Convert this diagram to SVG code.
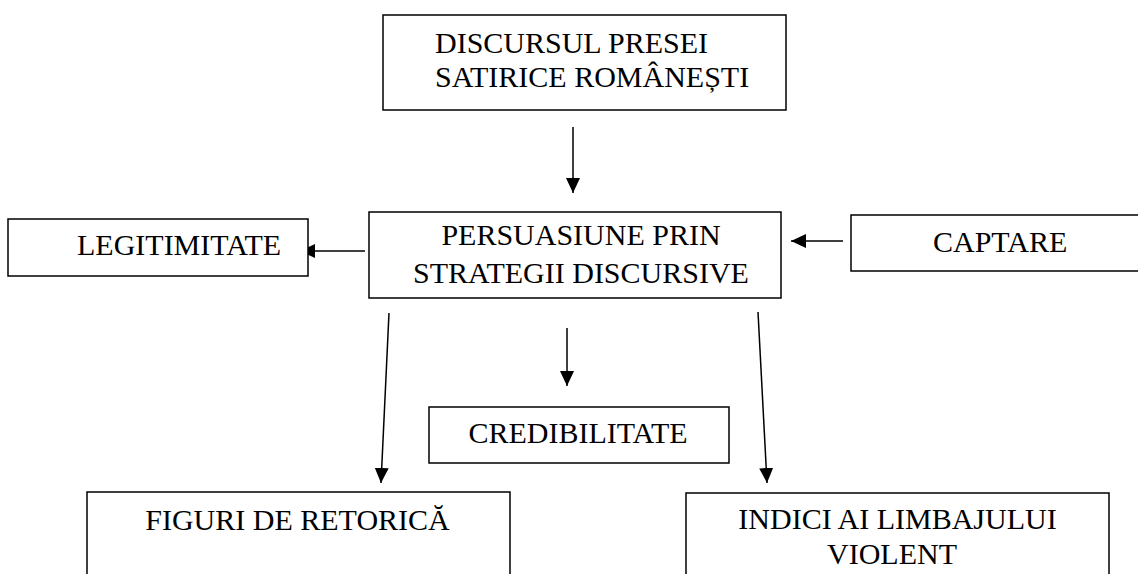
<svg xmlns="http://www.w3.org/2000/svg" width="1138" height="574" viewBox="0 0 1138 574">
<style>
.box{fill:#fff;stroke:#000;stroke-width:1.5}
.t{font-size:30px;fill:#000}
.c{text-anchor:middle}
.ln{stroke:#000;stroke-width:1.5;fill:none;marker-end:url(#ah)}
</style>
<defs>
<marker id="ah" markerUnits="userSpaceOnUse" markerWidth="15" markerHeight="14" refX="15" refY="7" orient="auto">
<path d="M0,0 L15,7 L0,14 z" fill="#000"/>
</marker>
</defs>
<rect width="1138" height="574" fill="#fff"/>
<g id="connectors">
<line class="ln" x1="573" y1="127" x2="573" y2="193"/>
<line class="ln" x1="365" y1="251" x2="300" y2="251"/>
<line class="ln" x1="843" y1="241" x2="791" y2="241"/>
<line class="ln" x1="567" y1="328" x2="567" y2="386"/>
<line class="ln" x1="389" y1="313" x2="381" y2="483"/>
<line class="ln" x1="758" y1="312" x2="767" y2="483"/>
</g>
<g font-family="'Liberation Serif', 'DejaVu Serif', 'Times New Roman', serif">
<g id="discurs">
<rect class="box" x="383" y="15" width="403" height="95"/>
<text class="t" x="435" y="53">DISCURSUL PRESEI</text>
<text class="t" x="435" y="87">SATIRICE ROMÂNEȘTI</text>
</g>
<g id="persuasiune">
<rect class="box" x="369" y="212" width="412" height="86"/>
<text class="t c" x="581" y="245">PERSUASIUNE PRIN</text>
<text class="t c" x="581" y="283">STRATEGII DISCURSIVE</text>
</g>
<g id="legitimitate">
<rect class="box" x="8" y="219" width="300" height="57"/>
<text class="t" x="77" y="255">LEGITIMITATE</text>
</g>
<g id="captare">
<rect class="box" x="851" y="215" width="300" height="56"/>
<text class="t" x="933" y="252">CAPTARE</text>
</g>
<g id="credibilitate">
<rect class="box" x="429" y="407" width="300" height="56"/>
<text class="t c" x="578" y="443">CREDIBILITATE</text>
</g>
<g id="figuri">
<rect class="box" x="87" y="492" width="423" height="100"/>
<text class="t c" x="297.5" y="530">FIGURI DE RETORICĂ</text>
</g>
<g id="indici">
<rect class="box" x="686" y="493" width="423" height="100"/>
<text class="t c" x="897.5" y="529">INDICI AI LIMBAJULUI</text>
<text class="t c" x="892" y="564">VIOLENT</text>
</g>
</g>
</svg>
